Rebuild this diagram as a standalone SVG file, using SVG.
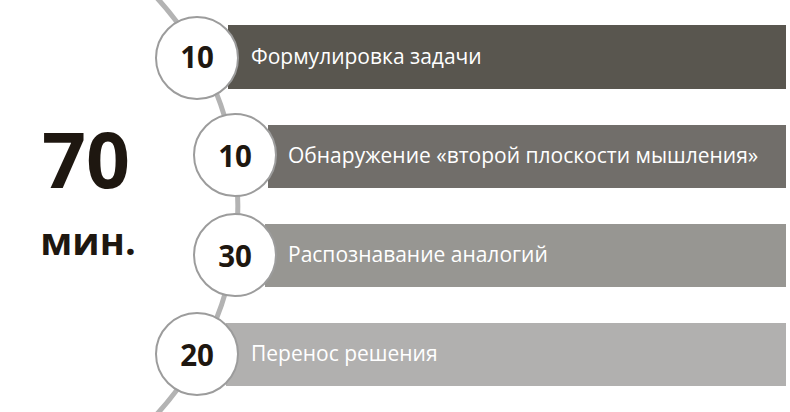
<svg xmlns="http://www.w3.org/2000/svg" width="790" height="412" viewBox="0 0 790 412">
<style>
.bar-label{font-family:"Open Sans","Liberation Sans",sans-serif;font-size:21px;fill:#ffffff}
.num{font-family:"Open Sans","Liberation Sans",sans-serif;font-size:29.5px;font-weight:bold;fill:#1e1710;text-anchor:middle}
.circ{fill:#ffffff;stroke:#9c9c9c;stroke-width:2}
.big{font-family:"Open Sans","Liberation Sans",sans-serif;font-weight:bold;fill:#1e1710;text-anchor:middle}
</style>
<rect width="790" height="412" fill="#ffffff"/>
<g id="connectors">
<path d="M 157 -2 A 308 308 0 0 1 157 414" fill="none" stroke="#b3b3b3" stroke-width="5"/>
</g>
<g id="total">
<text class="big" x="86" y="188" font-size="77">70</text>
<text class="big" x="88" y="255" font-size="38">мин.</text>
</g>
<g id="step1">
<rect x="228" y="25" width="558" height="64" fill="#59564f"/>
<circle class="circ" cx="197" cy="58" r="41"/>
<text class="num" x="197" y="68">10</text>
<text class="bar-label" x="251" y="64">Формулировка задачи</text>
</g>
<g id="step2">
<rect x="268" y="125" width="518" height="63" fill="#716e6a"/>
<circle class="circ" cx="235" cy="155" r="41"/>
<text class="num" x="235" y="167">10</text>
<text class="bar-label" x="288" y="163">Обнаружение «второй плоскости мышления»</text>
</g>
<g id="step3">
<rect x="265" y="224" width="521" height="63" fill="#979692"/>
<circle class="circ" cx="235" cy="255" r="41"/>
<text class="num" x="235" y="267">30</text>
<text class="bar-label" x="288" y="262">Распознавание аналогий</text>
</g>
<g id="step4">
<rect x="226" y="323" width="560" height="63" fill="#b1b0af"/>
<circle class="circ" cx="197" cy="354" r="41"/>
<text class="num" x="197" y="366">20</text>
<text class="bar-label" x="251" y="361">Перенос решения</text>
</g>
</svg>
